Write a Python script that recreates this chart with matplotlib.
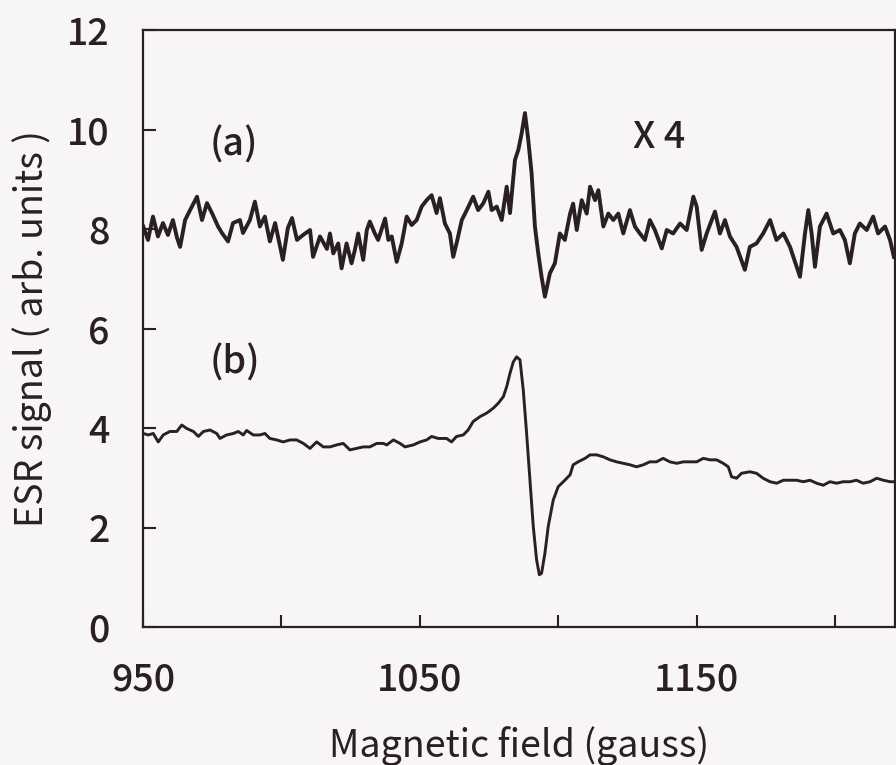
import matplotlib
matplotlib.use("Agg")
import matplotlib.pyplot as plt

plt.rcParams['font.family'] = ['Noto Sans CJK JP', 'DejaVu Sans']
plt.rcParams['font.weight'] = 'medium'

# trace (a), shown x 4
a_field = [950.1, 951.8, 953.6, 955.4, 957.2, 959.0, 960.8, 962.3, 963.4, 965.2,
           967.0, 969.5, 971.3, 973.1, 974.9, 977.1, 978.5, 980.7, 982.5, 985.0,
           986.1, 988.6, 990.4, 992.2, 994.0, 995.8, 997.7, 999.5, 1000.5, 1002.3,
           1003.8, 1005.6, 1007.8, 1010.3, 1011.4, 1013.9, 1016.4, 1017.5, 1018.7, 1020.5,
           1021.7, 1023.5, 1025.3, 1026.5, 1027.7, 1029.5, 1030.8, 1031.9, 1033.7, 1034.9,
           1037.4, 1038.6, 1039.8, 1041.6, 1043.4, 1045.2, 1047.0, 1048.8, 1050.6, 1052.4,
           1054.2, 1056.0, 1057.2, 1059.0, 1060.8, 1062.0, 1063.2, 1065.1, 1066.9, 1069.2,
           1071.0, 1072.9, 1074.7, 1075.9, 1077.7, 1079.5, 1081.3, 1082.5, 1084.3, 1085.5,
           1086.7, 1087.9, 1089.1, 1090.3, 1091.5, 1092.7, 1093.9, 1095.1, 1096.9, 1098.7,
           1100.5, 1102.3, 1104.2, 1105.3, 1106.6, 1108.4, 1110.2, 1111.4, 1113.2, 1114.4,
           1116.2, 1118.0, 1119.8, 1121.6, 1123.4, 1125.8, 1127.6, 1129.4, 1131.2, 1133.0,
           1134.8, 1137.3, 1139.1, 1141.4, 1143.9, 1146.3, 1148.7, 1149.9, 1151.7, 1153.5,
           1156.5, 1158.3, 1160.1, 1161.9, 1164.3, 1167.3, 1169.1, 1171.5, 1173.9, 1176.4,
           1178.7, 1181.2, 1183.6, 1187.2, 1189.0, 1190.2, 1191.4, 1192.6, 1194.4, 1196.8,
           1199.2, 1201.6, 1203.4, 1205.2, 1207.0, 1208.8, 1211.3, 1213.6, 1215.4, 1217.9,
           1219.7, 1221.1]
a_signal = [8.05, 7.78, 8.25, 7.85, 8.12, 7.88, 8.18, 7.82, 7.64, 8.18,
            8.38, 8.65, 8.18, 8.52, 8.32, 8.05, 7.92, 7.75, 8.12, 8.18,
            7.92, 8.18, 8.55, 8.05, 8.25, 7.75, 8.12, 7.64, 7.38, 8.02,
            8.22, 7.78, 7.88, 7.98, 7.44, 7.85, 7.60, 7.91, 7.51, 7.71,
            7.21, 7.71, 7.31, 7.58, 7.91, 7.38, 7.98, 8.15, 7.91, 7.78,
            8.21, 7.78, 7.85, 7.34, 7.71, 8.25, 8.08, 8.18, 8.45, 8.58,
            8.68, 8.32, 8.62, 8.11, 7.91, 7.44, 7.71, 8.18, 8.38, 8.65,
            8.38, 8.52, 8.75, 8.38, 8.45, 8.18, 8.85, 8.32, 9.39, 9.59,
            9.92, 10.33, 9.79, 9.12, 8.05, 7.51, 7.04, 6.64, 7.11, 7.31,
            7.91, 7.78, 8.31, 8.51, 7.98, 8.58, 8.31, 8.85, 8.58, 8.78,
            8.05, 8.31, 8.18, 8.31, 7.91, 8.38, 8.05, 7.91, 7.78, 8.18,
            7.98, 7.61, 7.98, 7.91, 8.11, 7.98, 8.65, 8.45, 7.58, 7.91,
            8.35, 7.91, 8.18, 7.85, 7.64, 7.18, 7.64, 7.71, 7.91, 8.18,
            7.78, 7.91, 7.64, 7.04, 7.91, 8.38, 7.91, 7.24, 8.05, 8.31,
            7.91, 7.98, 7.78, 7.31, 7.91, 8.11, 7.98, 8.25, 7.91, 8.05,
            7.78, 7.44]

# trace (b)
b_field = [950.1, 951.9, 953.7, 955.5, 957.3, 959.7, 962.2, 964.0, 965.8, 968.2,
           970.0, 971.8, 974.2, 976.6, 977.8, 980.2, 982.6, 984.4, 986.2, 987.4,
           989.8, 992.2, 994.0, 995.8, 998.3, 1000.6, 1003.1, 1005.5, 1007.9, 1010.3,
           1012.7, 1015.1, 1017.5, 1019.9, 1022.3, 1024.7, 1027.1, 1029.5, 1031.9, 1034.4,
           1036.8, 1038.0, 1040.4, 1042.8, 1044.6, 1047.6, 1050.0, 1052.4, 1054.2, 1056.6,
           1059.6, 1061.4, 1063.2, 1065.6, 1067.4, 1069.2, 1071.7, 1074.1, 1076.5, 1078.3,
           1080.1, 1081.3, 1082.5, 1083.7, 1084.9, 1086.1, 1087.3, 1088.5, 1089.7, 1090.9,
           1092.1, 1093.1, 1093.9, 1095.1, 1096.3, 1098.1, 1099.9, 1102.3, 1104.2, 1105.3,
           1107.1, 1109.6, 1111.4, 1113.8, 1116.2, 1118.6, 1121.0, 1123.4, 1125.8, 1128.2,
           1130.6, 1133.0, 1135.4, 1137.8, 1140.2, 1142.7, 1145.1, 1147.5, 1149.9, 1152.3,
           1154.7, 1157.1, 1159.5, 1161.3, 1162.5, 1164.3, 1166.1, 1169.1, 1171.5, 1173.9,
           1176.4, 1178.8, 1181.2, 1183.6, 1186.0, 1188.4, 1190.8, 1193.2, 1195.6, 1198.0,
           1200.4, 1202.8, 1205.2, 1207.6, 1210.0, 1212.5, 1214.9, 1217.3, 1219.7, 1221.5]
b_signal = [3.89, 3.86, 3.89, 3.72, 3.86, 3.93, 3.93, 4.06, 3.99, 3.93,
            3.83, 3.93, 3.96, 3.89, 3.79, 3.86, 3.89, 3.93, 3.86, 3.95,
            3.86, 3.86, 3.89, 3.79, 3.76, 3.72, 3.76, 3.76, 3.69, 3.59,
            3.72, 3.62, 3.62, 3.66, 3.69, 3.56, 3.59, 3.62, 3.62, 3.69,
            3.69, 3.66, 3.76, 3.69, 3.62, 3.66, 3.72, 3.76, 3.83, 3.79,
            3.79, 3.72, 3.83, 3.86, 3.96, 4.13, 4.23, 4.30, 4.40, 4.50,
            4.63, 4.83, 5.10, 5.33, 5.43, 5.37, 4.76, 3.89, 2.95, 2.02,
            1.35, 1.05, 1.08, 1.48, 2.02, 2.55, 2.82, 2.95, 3.06, 3.26,
            3.32, 3.39, 3.46, 3.46, 3.42, 3.36, 3.32, 3.29, 3.26, 3.22,
            3.26, 3.32, 3.32, 3.39, 3.32, 3.29, 3.32, 3.32, 3.32, 3.39,
            3.36, 3.36, 3.29, 3.22, 3.02, 2.99, 3.09, 3.12, 3.09, 2.99,
            2.92, 2.89, 2.95, 2.95, 2.95, 2.92, 2.95, 2.89, 2.85, 2.92,
            2.89, 2.92, 2.92, 2.95, 2.89, 2.92, 2.99, 2.95, 2.92, 2.92]

x_ticks = [950, 1000, 1050, 1100, 1150, 1200]
x_labels = ['950', '', '1050', '', '1150', '']
y_ticks = [0, 2, 4, 6, 8, 10, 12]

ink = '#2a1f25'
bg = '#f7f5f5'

fig = plt.figure(figsize=(8.96, 7.65), dpi=100, facecolor=bg)
ax = fig.add_axes([143 / 896, 1 - 627 / 765, 752 / 896, 597 / 765])
ax.set_facecolor(bg)

ax.plot(a_field, a_signal, color=ink, lw=2.8)
ax.plot(b_field, b_signal, color=ink, lw=2.1)

ax.text(974, 9.69, '(a)', fontsize=27, color=ink, va='center', ha='left')
ax.text(974, 5.31, '(b)', fontsize=27, color=ink, va='center', ha='left')
ax.text(1127, 9.85, 'X 4', fontsize=27, color=ink, va='center', ha='left')

ax.set_xlim(950, 1221.5)
ax.set_ylim(0, 12)
ax.set_xticks(x_ticks)
ax.set_xticklabels(x_labels)
ax.set_yticks(y_ticks)
ax.tick_params(direction='in', length=9, width=1.5, labelsize=27, colors=ink)
ax.tick_params(axis='x', pad=24)
ax.tick_params(axis='y', pad=24)
for s in ax.spines.values():
    s.set_linewidth(1.6)
    s.set_color(ink)

ax.set_xlabel('Magnetic field (gauss)', fontsize=27, color=ink, labelpad=20)
ax.set_ylabel('ESR signal ( arb. units )', fontsize=27, color=ink, labelpad=11)

fig.savefig('out.png', dpi=100, facecolor=bg)
